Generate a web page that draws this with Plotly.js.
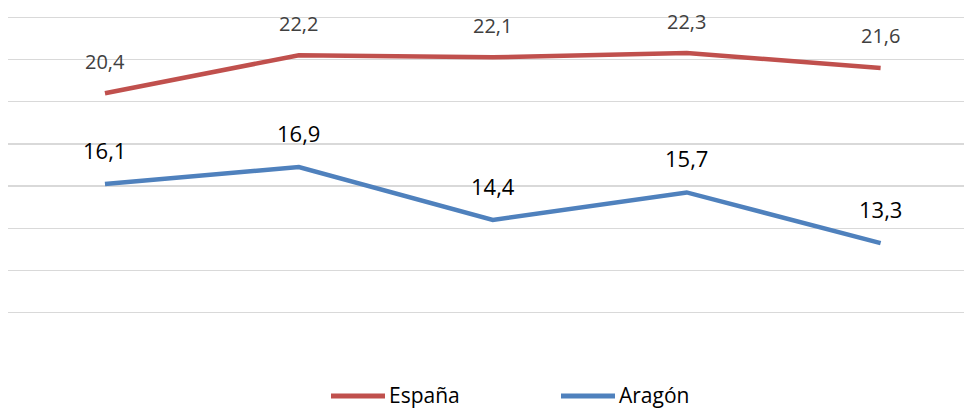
<!DOCTYPE html>
<html>
<head>
<meta charset="utf-8">
<script src="https://cdn.plot.ly/plotly-3.0.1.min.js"></script>
<style>html,body{margin:0;padding:0;background:#fff;}#chart{width:964px;height:410px;}</style>
</head>
<body>
<div id="chart"></div>
<script>
var categories = ["1", "2", "3", "4", "5"];
var espana = [20.4, 22.2, 22.1, 22.3, 21.6];
var aragon = [16.1, 16.9, 14.4, 15.7, 13.3];
var seriesNames = ["España", "Aragón"];
var seriesColors = ["#C0504D", "#4F81BD"];

var xIdx = categories.map(function(_, i){ return i; });
function fmt(v){ return v.toFixed(1).replace('.', ','); }

var traces = [
  {x: xIdx, y: espana, name: seriesNames[0], mode: 'lines', line: {color: seriesColors[0], width: 4.5}, showlegend: false},
  {x: xIdx, y: aragon, name: seriesNames[1], mode: 'lines', line: {color: seriesColors[1], width: 4.5}, showlegend: false}
];

var annotations = [];
espana.forEach(function(v, i){
  annotations.push({x: i, y: v, xref: 'x', yref: 'y', text: fmt(v), showarrow: false,
    yshift: 32, font: {family: 'Open Sans', size: 20, color: '#404040'}});
});
aragon.forEach(function(v, i){
  annotations.push({x: i, y: v, xref: 'x', yref: 'y', text: fmt(v), showarrow: false,
    yshift: 34, font: {family: 'Open Sans', size: 22, color: '#000000'}});
});

// custom legend (paper coordinates); plot area spans px 8..964 horizontally, 13..317 vertically
var W = 956, H = 304, left = 8, bottom = 317;
function px(x){ return (x - left) / W; }
function py(y){ return (bottom - y) / H; }
var legendStarts = [331, 561];
var shapes = [];
seriesNames.forEach(function(n, k){
  var x0 = legendStarts[k];
  shapes.push({type: 'line', xref: 'paper', yref: 'paper', x0: px(x0), x1: px(x0 + 54), y0: py(396), y1: py(396),
    line: {color: seriesColors[k], width: 5}});
  annotations.push({xref: 'paper', yref: 'paper', x: px(x0 + 56), y: py(395), xanchor: 'left', yanchor: 'middle',
    text: n, showarrow: false, font: {family: 'Open Sans', size: 21, color: '#000'}});
});

var layout = {
  width: 964, height: 410,
  margin: {l: 8, r: 0, t: 13, b: 93},
  paper_bgcolor: '#ffffff', plot_bgcolor: '#ffffff',
  font: {family: 'Open Sans', color: '#000'},
  xaxis: {range: [-0.5, 4.43], showticklabels: false, showgrid: false, zeroline: false, ticks: ''},
  yaxis: {range: [9.8, 24.2], tick0: 10, dtick: 2, showticklabels: false, showgrid: true, gridcolor: '#d9d9d9', gridwidth: 1.3, zeroline: false, ticks: ''},
  showlegend: false,
  annotations: annotations,
  shapes: shapes
};

Plotly.newPlot('chart', traces, layout, {displayModeBar: false, staticPlot: true});
</script>
</body>
</html>
